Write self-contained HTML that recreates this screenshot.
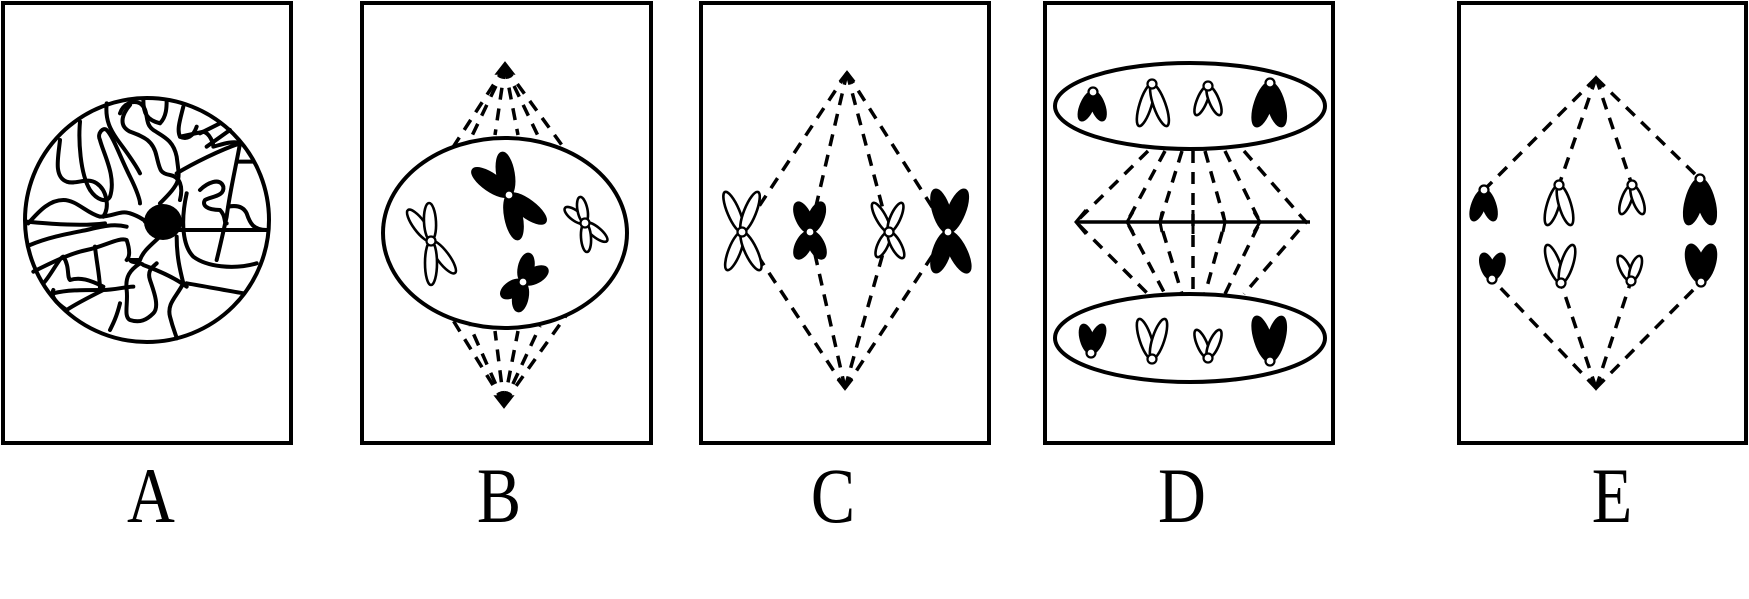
<!DOCTYPE html>
<html><head><meta charset="utf-8"><style>
html,body{margin:0;padding:0;background:#fff;}
svg{display:block;}
text{font-family:"Liberation Serif",serif;font-size:78px;fill:#000;}
</style></head><body>
<svg id="s" width="1749" height="599" viewBox="0 0 1749 599" xmlns="http://www.w3.org/2000/svg">
<rect width="1749" height="599" fill="#fff"/>
<g fill="none" stroke="#000" stroke-width="4">
<rect x="3" y="3" width="288" height="440"/>
<rect x="362" y="3" width="289" height="440"/>
<rect x="701" y="3" width="288" height="440"/>
<rect x="1045" y="3" width="288" height="440"/>
<rect x="1459" y="3" width="287" height="440"/>
</g>
<!-- Panel A -->
<g transform="translate(20,90) scale(0.33333)" fill="none" stroke="#000" stroke-width="12" stroke-linejoin="round" stroke-linecap="round">
<path d="M20,395 C80,400 180,410 255,400"/>
<path d="M30,465 C90,440 150,430 200,420 C240,410 280,400 320,410"/>
<path d="M25,400 C60,360 90,330 130,330 C170,330 200,370 240,380 C280,380 300,360 330,370 C360,380 380,395 375,395"/>
<path d="M180,95 C175,150 180,250 210,300 C230,330 260,340 270,320 C290,260 250,190 240,150 C230,130 250,110 260,120 C280,140 300,200 330,260 C350,300 360,330 360,340"/>
<path d="M120,150 C115,200 100,260 140,275 C170,285 200,260 230,280 C260,300 270,350 250,380"/>
<path d="M260,40 C255,90 270,120 300,160 C330,200 350,230 360,250"/>
<path d="M300,70 C310,40 340,30 360,40 C390,60 370,100 400,120 C430,140 460,150 470,200 C475,240 480,260 470,280 C460,300 440,320 420,340"/>
<path d="M330,45 C300,80 300,110 330,125 C370,140 400,150 410,200 C420,240 420,250 450,255 C480,260 490,290 480,330"/>
<path d="M370,30 C370,70 380,90 420,100 C440,80 440,50 440,30"/>
<path d="M490,50 C480,90 470,120 480,140 C500,150 520,140 530,110"/>
<path d="M540,130 L600,100 M560,170 L630,120"/>
<path d="M480,140 L550,125 C570,130 580,160 580,170 C600,165 640,150 660,160"/>
<path d="M470,250 C520,220 600,180 660,160 C650,220 630,300 620,380 C600,470 590,510 590,510"/>
<path d="M650,215 L700,215"/>
<path d="M540,300 C560,280 600,260 610,290 C615,320 570,320 555,330 C545,345 560,360 600,360 C620,380 610,400 620,400"/>
<path d="M625,350 C650,345 670,350 680,370 C690,400 700,420 740,420"/>
<path d="M420,420 L745,420"/>
<path d="M500,310 C480,400 490,470 520,500 C560,530 640,540 710,520"/>
<path d="M430,430 C400,460 370,480 360,510 L330,510 C335,520 360,515 370,525 C410,540 460,560 500,590"/>
<path d="M360,520 C330,540 315,560 320,600 C325,640 310,680 330,690 C360,700 380,690 400,670 C420,650 400,600 390,570 C380,540 400,530 410,520"/>
<path d="M470,440 C470,500 480,540 490,580 C470,620 440,640 450,680 C460,720 470,740 470,745"/>
<path d="M500,580 C560,590 610,600 670,610"/>
<path d="M40,545 C90,520 150,490 200,480 C250,470 300,440 320,450 C330,480 330,500 320,510"/>
<path d="M70,580 C90,560 120,500 130,500 C150,530 140,560 150,570 C180,560 210,570 250,590"/>
<path d="M240,600 C240,560 230,520 225,470"/>
<path d="M100,610 C140,600 180,600 250,600 C280,600 320,590 340,590"/>
<path d="M140,660 C170,640 210,620 250,600"/>
<path d="M300,640 C290,680 280,700 270,720"/>
<path d="M100,600 C90,620 110,640 140,660"/>
</g>
<circle cx="147" cy="220" r="122" fill="none" stroke="#000" stroke-width="4"/>
<ellipse cx="163" cy="222" rx="19" ry="18" fill="#000"/>
<g id="dyn"></g>
<g transform="translate(151,522) scale(0.85,1)"><text text-anchor="middle">A</text></g>
<g transform="translate(499,522) scale(0.85,1)"><text text-anchor="middle">B</text></g>
<g transform="translate(833,522) scale(0.85,1)"><text text-anchor="middle">C</text></g>
<g transform="translate(1182,522) scale(0.85,1)"><text text-anchor="middle">D</text></g>
<g transform="translate(1612,522) scale(0.85,1)"><text text-anchor="middle">E</text></g>
</svg>
<script>
var NS="http://www.w3.org/2000/svg",G=document.getElementById("dyn");
function el(n,a){var e=document.createElementNS(NS,n);for(var k in a)e.setAttribute(k,a[k]);G.appendChild(e);return e;}
function dash(pts){el("polyline",{points:pts.map(function(p){return p.join(",")}).join(" "),fill:"none",stroke:"#000","stroke-width":3.5,"stroke-dasharray":"12 9"});}
function chrom(cx,cy,tips,w,black){
 tips.forEach(function(t){var dx=t[0]-cx,dy=t[1]-cy,L=Math.sqrt(dx*dx+dy*dy),a=Math.atan2(dy,dx)*180/Math.PI;
  el("ellipse",{cx:0,cy:0,rx:L/2,ry:w,transform:"translate("+cx+","+cy+") rotate("+a+") translate("+(L/2)+",0)",fill:black?"#000":"#fff",stroke:"#000","stroke-width":2.6});});
 el("circle",{cx:cx,cy:cy,r:4.5,fill:"#fff",stroke:"#000","stroke-width":2.2});
}
function chev(x,y,dir,filled){var s=dir;el("path",{d:"M"+(x-7)+","+(y+9*s)+" L"+x+","+y+" L"+(x+7)+","+(y+9*s)+(filled?" Z":""),fill:filled?"#000":"none",stroke:"#000","stroke-width":3.5});}
// Panel B
[[435,175],[470,140],[495,135],[518,135],[540,140],[580,170]].forEach(function(p){dash([[505,67],p]);dash([[504,403],[p[0],466-p[1]]]);});
chev(505,64,1,true);chev(504,406,-1,true);
el("ellipse",{cx:505,cy:233,rx:122,ry:95,fill:"#fff",stroke:"#000","stroke-width":4});
chrom(509,195,[[502,153],[473,170],[518,239],[545,222]],8,true);
chrom(431,241,[[408,210],[429,203],[455,273],[431,285]],6,false);
chrom(585,223,[[565,208],[580,197],[607,241],[587,252]],5,false);
chrom(523,282,[[529,254],[547,269],[502,296],[518,311]],7,true);
// Panel C
[[742,232],[810,232],[889,232],[948,232]].forEach(function(c){dash([[847,73],c]);dash([[845,388],c]);});
chev(847,73,1,false);chev(845,388,-1,false);
chrom(742,232,[[725,192],[758,192],[727,270],[760,270]],6,false);
chrom(810,232,[[797,203],[822,203],[797,258],[823,258]],7,true);
chrom(889,232,[[873,203],[902,203],[877,257],[903,258]],5,false);
chrom(948,232,[[935,190],[965,190],[935,272],[968,272]],8,true);
// Panel D
[[1148,1076],[1165,1127],[1182,1160],[1193,1193],[1205,1225],[1225,1260],[1244,1306]].forEach(function(p){dash([[p[0],151],[p[1],222],[p[0],294]]);});
el("line",{x1:1076,y1:222,x2:1310,y2:222,stroke:"#000","stroke-width":3.5});
el("path",{d:"M1086,210 L1076,222 L1086,234 M1133,212 L1127,222 L1133,232 M1162,212 L1160,222 L1162,232 M1193,210 L1193,234 M1223,212 L1225,222 L1223,232 M1254,212 L1260,222 L1254,232",fill:"none",stroke:"#000","stroke-width":3});
el("ellipse",{cx:1190,cy:106,rx:135,ry:43,fill:"#fff",stroke:"#000","stroke-width":4});
el("ellipse",{cx:1190,cy:338,rx:135,ry:44,fill:"#fff",stroke:"#000","stroke-width":4});
chrom(1093,92,[[1081,120],[1103,120]],6,true);
chrom(1152,84,[[1139,126],[1167,126]],6,false);
chrom(1208,86,[[1196,115],[1220,115]],5,false);
chrom(1270,83,[[1256,126],[1282,126]],8,true);
chrom(1091,353,[[1083,325],[1103,325]],6,true);
chrom(1152,359,[[1139,319],[1165,319]],6,false);
chrom(1208,358,[[1196,330],[1220,330]],5,false);
chrom(1270,361,[[1256,317],[1282,317]],8,true);
// Panel E
[[1484,190],[1559,185],[1632,185],[1700,179]].forEach(function(c){dash([[1596,78],c]);});
[[1492,279],[1561,283],[1631,281],[1701,282]].forEach(function(c){dash([[1596,388],c]);});
chev(1596,78,1,false);chev(1596,388,-1,false);
chrom(1484,190,[[1473,220],[1494,220]],6,true);
chrom(1559,185,[[1547,225],[1571,225]],6,false);
chrom(1632,185,[[1621,214],[1643,214]],5,false);
chrom(1700,179,[[1688,224],[1712,224]],8,true);
chrom(1492,279,[[1483,254],[1502,254]],6,true);
chrom(1561,283,[[1547,245],[1573,245]],6,false);
chrom(1631,281,[[1619,256],[1640,256]],5,false);
chrom(1701,282,[[1690,245],[1712,245]],8,true);
</script>
</body></html>
